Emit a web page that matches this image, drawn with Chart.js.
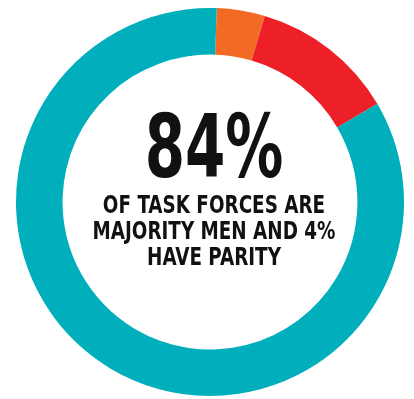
<!DOCTYPE html>
<html>
<head>
<meta charset="utf-8">
<script src="https://cdn.jsdelivr.net/npm/chart.js@4"></script>
<style>
    html, body { margin: 0; padding: 0; background: #fff; }
    .wrap { position: relative; width: 414px; height: 399px; }
    .big, .sub {
        position: absolute; left: 0; width: 428px; text-align: center;
        font-family: "DejaVu Sans Condensed", "Liberation Sans Narrow", sans-serif;
        font-weight: bold; color: #111; white-space: nowrap;
    }
    .big { top: 104px; font-size: 87px; line-height: 87px; transform: scaleX(0.74); }
    .sub { top: 192px; font-size: 24px; line-height: 26px; transform: scaleX(0.85); }
</style>
</head>
<body>
<div class="wrap">
    <canvas id="donut" width="414" height="399"></canvas>
    <div class="big">84%</div>
    <div class="sub">OF TASK FORCES ARE<br>MAJORITY MEN AND 4%<br>HAVE PARITY</div>
</div>
<script>
// --- veriler ---
const labels = ['Parity', 'Majority women', 'Majority men'];
const shares = [4, 12, 84];
const colors = ['#F36A25', '#ED1F27', '#00AEBC'];

document.addEventListener('DOMContentLoaded', function () {
    const ctx = document.getElementById('donut').getContext('2d');

    new Chart(ctx, {
        type: 'doughnut',
        data: {
            labels: labels,
            datasets: [{
                data: shares,
                backgroundColor: colors,
                borderWidth: 0
            }]
        },
        options: {
            responsive: false,
            animation: false,
            rotation: 2,          // ilk dilim tepeden biraz sağda başlıyor
            cutout: '76%',
            layout: { padding: { left: 16, right: 10, top: 8, bottom: 3 } },
            plugins: {
                legend: { display: false },
                tooltip: { enabled: false }
            }
        }
    });
});
</script>
</body>
</html>
